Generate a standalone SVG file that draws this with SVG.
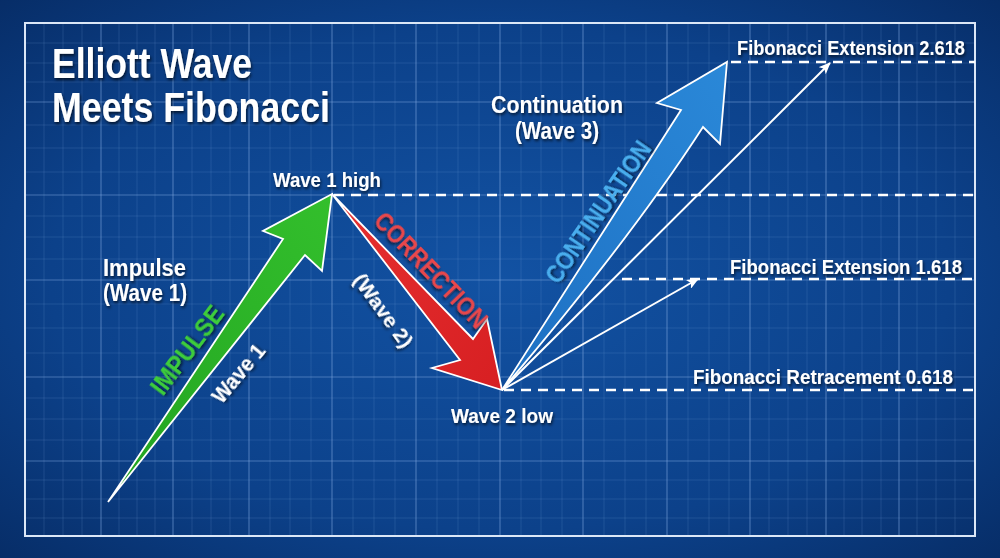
<svg xmlns="http://www.w3.org/2000/svg" width="1000" height="558" viewBox="0 0 1000 558">
  <defs>
    <radialGradient id="bg" cx="0.5" cy="0.5" r="0.75">
      <stop offset="0" stop-color="#1252a3"/>
      <stop offset="0.6" stop-color="#0c418a"/>
      <stop offset="1" stop-color="#062a62"/>
    </radialGradient>
    <linearGradient id="gGreen" x1="0" y1="1" x2="1" y2="0">
      <stop offset="0" stop-color="#22a321"/>
      <stop offset="1" stop-color="#33bf2c"/>
    </linearGradient>
    <linearGradient id="gRed" x1="0" y1="0" x2="1" y2="1">
      <stop offset="0" stop-color="#e63030"/>
      <stop offset="1" stop-color="#d71f22"/>
    </linearGradient>
    <linearGradient id="gBlue" x1="0" y1="1" x2="1" y2="0">
      <stop offset="0" stop-color="#1d6fc2"/>
      <stop offset="1" stop-color="#2a88d8"/>
    </linearGradient>
    <filter id="sh" x="-20%" y="-40%" width="140%" height="180%">
      <feDropShadow dx="1" dy="2" stdDeviation="1.5" flood-color="#000" flood-opacity="0.65"/>
    </filter>
    <marker id="ah" viewBox="0 0 12 10" refX="11" refY="5" markerWidth="12" markerHeight="10" markerUnits="userSpaceOnUse" orient="auto">
      <path d="M0,0 L12,5 L0,10 L3,5 Z" fill="#ffffff"/>
    </marker>
    <style>
      .lbl { font-family: "Liberation Sans", Arial, sans-serif; font-weight: bold; fill: #ffffff; filter: url(#sh); }
      .gmaj { stroke: #7fa8e0; stroke-opacity: 0.5; stroke-width: 1.2; }
      .gmin { stroke: #7fa8e0; stroke-opacity: 0.18; stroke-width: 1; }
      .dash { stroke: #ffffff; stroke-width: 2.5; stroke-dasharray: 10 7; fill: none; }
      .arrow { stroke: #ffffff; stroke-width: 1.8; stroke-linejoin: miter; }
      .thin { stroke: #ffffff; stroke-width: 2; fill: none; }
    </style>
  </defs>

  <rect x="0" y="0" width="1000" height="558" fill="url(#bg)"/>

  <g id="grid">
    <g class="gmin">
      <path d="M44,23V536 M63,23V536 M82,23V536 M119,23V536 M137,23V536 M155,23V536 M192,23V536 M211,23V536 M230,23V536 M270,23V536 M290,23V536 M311,23V536 M353,23V536 M374,23V536 M395,23V536 M437,23V536 M458,23V536 M479,23V536 M521,23V536 M541,23V536 M562,23V536 M604,23V536 M625,23V536 M646,23V536 M688,23V536 M709,23V536 M729,23V536 M769,23V536 M788,23V536 M807,23V536 M844,23V536 M862,23V536 M881,23V536 M917,23V536 M936,23V536 M955,23V536"/>
      <path d="M25,43H975 M25,63H975 M25,82H975 M25,125H975 M25,148H975 M25,172H975 M25,216H975 M25,237H975 M25,259H975 M25,304H975 M25,328H975 M25,353H975 M25,398H975 M25,419H975 M25,440H975 M25,480H975 M25,499H975 M25,518H975"/>
    </g>
    <g class="gmaj">
      <path d="M101,23V536 M173,23V536 M249,23V536 M332,23V536 M416,23V536 M500,23V536 M583,23V536 M667,23V536 M750,23V536 M826,23V536 M899,23V536"/>
      <path d="M25,102H975 M25,195H975 M25,280H975 M25,377H975 M25,461H975"/>
    </g>
  </g>

  <rect id="frame" x="25" y="23" width="950" height="513" fill="none" stroke="#dbe7f7" stroke-width="2"/>

  <g id="levels">
    <line class="dash" x1="731" y1="62" x2="975" y2="62"/>
    <line class="dash" x1="334" y1="195" x2="975" y2="195"/>
    <line class="dash" x1="622" y1="279" x2="975" y2="279"/>
    <line class="dash" x1="504" y1="390" x2="975" y2="390"/>
  </g>

  <g id="connectors">
    <line class="thin" x1="502" y1="390" x2="830" y2="63" marker-end="url(#ah)"/>
    <line class="thin" x1="502" y1="390" x2="698" y2="279" marker-end="url(#ah)"/>
  </g>

  <g id="wave1-arrow">
    <path class="arrow" fill="url(#gGreen)" d="M108,502 L283,239 L263,231 L332,194 L322,271 L305,255 Z"/>
  </g>
  <g id="wave2-arrow">
    <path class="arrow" fill="url(#gRed)" d="M332,194 L473,339 L487,319 L502,390 L432,368 L460,360 Z"/>
  </g>
  <g id="wave3-arrow">
    <path class="arrow" fill="url(#gBlue)" d="M502,390 L681,110 L657,103 L727,62 L720,144 L703,127 Q630,240 502,390 Z"/>
  </g>

  <g id="title">
    <text class="lbl" x="52" y="78" font-size="43" textLength="200" lengthAdjust="spacingAndGlyphs">Elliott Wave</text>
    <text class="lbl" x="52" y="122" font-size="43" textLength="278" lengthAdjust="spacingAndGlyphs">Meets Fibonacci</text>
  </g>

  <g id="wave1-high">
    <text class="lbl" x="273" y="187" font-size="21" textLength="108" lengthAdjust="spacingAndGlyphs">Wave 1 high</text>
  </g>
  <g id="impulse-label">
    <text class="lbl" x="103" y="276" font-size="24" textLength="83" lengthAdjust="spacingAndGlyphs">Impulse</text>
    <text class="lbl" x="103" y="301" font-size="24" textLength="84" lengthAdjust="spacingAndGlyphs">(Wave 1)</text>
  </g>
  <g id="impulse-tag">
    <text class="lbl" transform="translate(187,350) rotate(-53)" x="0" y="9" font-size="26" text-anchor="middle" textLength="104" lengthAdjust="spacingAndGlyphs" style="fill:#3dcc3a">IMPULSE</text>
    <text class="lbl" transform="translate(238,373) rotate(-50)" x="0" y="8" font-size="22" text-anchor="middle" textLength="70" lengthAdjust="spacingAndGlyphs">Wave 1</text>
  </g>
  <g id="correction-tag">
    <text class="lbl" transform="translate(431,270) rotate(46)" x="0" y="9" font-size="26" text-anchor="middle" textLength="150" lengthAdjust="spacingAndGlyphs" style="fill:#e8474c">CORRECTION</text>
    <text class="lbl" transform="translate(384,310) rotate(54)" x="0" y="8" font-size="21" text-anchor="middle" textLength="86" lengthAdjust="spacingAndGlyphs">(Wave 2)</text>
  </g>
  <g id="wave2-low">
    <text class="lbl" x="502" y="423" font-size="21" text-anchor="middle" textLength="102" lengthAdjust="spacingAndGlyphs">Wave 2 low</text>
  </g>
  <g id="continuation-label">
    <text class="lbl" x="557" y="113" font-size="23" text-anchor="middle" textLength="132" lengthAdjust="spacingAndGlyphs">Continuation</text>
    <text class="lbl" x="557" y="139" font-size="23" text-anchor="middle" textLength="84" lengthAdjust="spacingAndGlyphs">(Wave 3)</text>
  </g>
  <g id="continuation-tag">
    <text class="lbl" transform="translate(598,212) rotate(-55.5)" x="0" y="9" font-size="25" text-anchor="middle" textLength="166" lengthAdjust="spacingAndGlyphs" style="fill:#4aaeee">CONTINUATION</text>
  </g>
  <g id="fib-labels">
    <text class="lbl" x="737" y="55" font-size="21" textLength="228" lengthAdjust="spacingAndGlyphs">Fibonacci Extension 2.618</text>
    <text class="lbl" x="730" y="274" font-size="21" textLength="232" lengthAdjust="spacingAndGlyphs">Fibonacci Extension 1.618</text>
    <text class="lbl" x="693" y="384" font-size="21" textLength="260" lengthAdjust="spacingAndGlyphs">Fibonacci Retracement 0.618</text>
  </g>
</svg>
